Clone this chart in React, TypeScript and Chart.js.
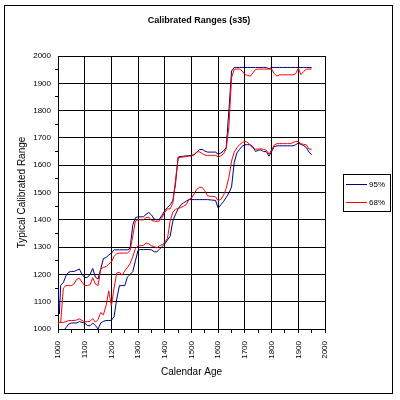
import React, { useEffect, useRef } from "react";
import { Chart, registerables } from "chart.js";

Chart.register(...registerables);

const FONT = "'Liberation Sans', Arial, sans-serif";

// Calendar ages (years) at which the calibrated ranges are sampled
const calendarAges = [
  1000, 1005, 1010, 1020, 1030, 1040, 1050, 1060, 1070, 1080,
  1090, 1100, 1110, 1120, 1130, 1140, 1150, 1160, 1170, 1180,
  1190, 1200, 1210, 1220, 1230, 1240, 1250, 1260, 1270, 1280,
  1290, 1300, 1310, 1320, 1330, 1340, 1350, 1360, 1370, 1380,
  1390, 1400, 1410, 1420, 1430, 1440, 1450, 1460, 1470, 1480,
  1490, 1500, 1510, 1520, 1530, 1540, 1550, 1560, 1570, 1580,
  1590, 1600, 1610, 1620, 1630, 1640, 1650, 1660, 1670, 1680,
  1690, 1700, 1710, 1720, 1730, 1740, 1750, 1760, 1770, 1780,
  1790, 1800, 1810, 1820, 1830, 1840, 1850, 1860, 1870, 1880,
  1890, 1900, 1910, 1920, 1930, 1940, 1950,
];

// 95% range, upper and lower bounds
const upper95 = [
  1150, 1055, 1160, 1170, 1195, 1208, 1211, 1211, 1215, 1220,
  1200, 1189, 1189, 1200, 1222, 1190, 1183, 1220, 1258, 1262,
  1271, 1278, 1290, 1290, 1290, 1290, 1290, 1290, 1295, 1380,
  1408, 1411, 1411, 1411, 1420, 1427, 1418, 1403, 1400, 1402,
  1418, 1433, 1445, 1455, 1470, 1530, 1630, 1632, 1633, 1634,
  1635, 1636, 1638, 1648, 1657, 1658, 1652, 1648, 1648, 1648,
  1648, 1640, 1645, 1652, 1665, 1800, 1945, 1958, 1958, 1958,
  1958, 1958, 1958, 1958, 1958, 1958, 1958, 1958, 1958, 1958,
  1953, 1958, 1958, 1958, 1958, 1958, 1958, 1958, 1958, 1958,
  1958, 1958, 1958, 1958, 1958, 1958, 1958,
];
const lower95 = [
  985, 985, 988, 993, 1005, 1018, 1022, 1022, 1022, 1027,
  1024, 1022, 1013, 1012, 1022, 1013, 1000, 1022, 1028, 1031,
  1031, 1032, 1045, 1110, 1159, 1159, 1159, 1190, 1200, 1210,
  1250, 1289, 1291, 1291, 1291, 1291, 1290, 1283, 1283, 1292,
  1302, 1312, 1326, 1340, 1395, 1420, 1440, 1455, 1462, 1468,
  1474, 1474, 1474, 1474, 1474, 1474, 1474, 1474, 1473, 1472,
  1471, 1443, 1455, 1467, 1482, 1498, 1520, 1610, 1645, 1658,
  1670, 1675, 1675, 1675, 1668, 1650, 1655, 1656, 1650, 1650,
  1633, 1650, 1668, 1671, 1671, 1671, 1671, 1671, 1671, 1671,
  1675, 1681, 1676, 1672, 1665, 1648, 1638,
];

// 68% range, upper and lower bounds
const upper68 = [
  1024, 1024, 1024, 1150, 1159, 1159, 1159, 1165, 1182, 1186,
  1172, 1159, 1159, 1162, 1188, 1165, 1159, 1220, 1226, 1228,
  1238, 1245, 1266, 1276, 1278, 1278, 1278, 1278, 1288, 1340,
  1396, 1400, 1400, 1400, 1408, 1410, 1398, 1395, 1394, 1396,
  1410, 1428, 1440, 1440, 1460, 1545, 1627, 1629, 1630, 1632,
  1633, 1634, 1639, 1649, 1649, 1643, 1637, 1636, 1636, 1636,
  1636, 1630, 1634, 1642, 1660, 1740, 1920, 1952, 1952, 1952,
  1945, 1932, 1929, 1926, 1938, 1951, 1952, 1952, 1952, 1952,
  1952, 1952, 1935, 1926, 1931, 1931, 1931, 1931, 1931, 1931,
  1935, 1955, 1932, 1943, 1952, 1952, 1952,
];
const lower68 = [
  1020, 1024, 1024, 1024, 1027, 1031, 1031, 1031, 1033, 1037,
  1031, 1027, 1027, 1028, 1038, 1025, 1035, 1060, 1052, 1085,
  1140, 1085, 1150, 1205, 1208, 1197, 1213, 1225, 1240, 1265,
  1295, 1305, 1305, 1306, 1315, 1312, 1305, 1302, 1297, 1305,
  1309, 1318, 1332, 1395, 1428, 1439, 1441, 1445, 1450, 1455,
  1474, 1480, 1495, 1512, 1519, 1519, 1506, 1488, 1486, 1486,
  1484, 1470, 1475, 1490, 1515, 1555, 1615, 1648, 1664, 1675,
  1683, 1687, 1684, 1673, 1662, 1659, 1659, 1660, 1658, 1655,
  1641, 1656, 1674, 1679, 1679, 1679, 1679, 1679, 1679, 1683,
  1687, 1687, 1679, 1676, 1675, 1659, 1659,
];

const seriesNames = ["95%", "68%"];
const seriesColors = ["#000080", "#FF0000"];
const chartTitle = "Calibrated Ranges (s35)";
const xAxisTitle = "Calendar Age";
const yAxisTitle = "Typical Calibrated Range";

const toPoints = (values: number[]) =>
  calendarAges.map((age, i) => ({ x: age, y: values[i] }));

const isMajor = (v: number) => Math.round(v) % 100 === 0;

// Paints the white page, outer frame, titles and the boxed legend
const framePlugin = {
  id: "frame",
  beforeDraw(chart: any) {
    const { ctx, width, height } = chart;
    ctx.save();
    ctx.fillStyle = "#ffffff";
    ctx.fillRect(0, 0, width, height);
    ctx.strokeStyle = "#000000";
    ctx.lineWidth = 1;
    ctx.strokeRect(4.5, 5.5, 388, 388);
    ctx.restore();
  },
  afterDraw(chart: any) {
    const { ctx, chartArea } = chart;
    ctx.save();
    ctx.fillStyle = "#000000";
    ctx.textAlign = "center";
    ctx.textBaseline = "middle";
    ctx.font = `bold 9px ${FONT}`;
    ctx.fillText(chartTitle, 199, 21);

    ctx.font = `10px ${FONT}`;
    ctx.fillText(xAxisTitle, (chartArea.left + chartArea.right) / 2, 372);

    ctx.save();
    ctx.translate(22, (chartArea.top + chartArea.bottom) / 2);
    ctx.rotate(-Math.PI / 2);
    ctx.fillText(yAxisTitle, 0, 0);
    ctx.restore();

    // legend
    ctx.strokeStyle = "#000000";
    ctx.lineWidth = 1;
    ctx.strokeRect(343.5, 174.5, 47, 37);
    ctx.font = `8px ${FONT}`;
    ctx.textAlign = "left";
    seriesNames.forEach((name, i) => {
      const y = 184.5 + i * 18;
      ctx.strokeStyle = seriesColors[i];
      ctx.beginPath();
      ctx.moveTo(346, y);
      ctx.lineTo(367, y);
      ctx.stroke();
      ctx.fillStyle = "#000000";
      ctx.fillText(name, 369, y);
    });
    ctx.restore();
  },
};

export default function App() {
  const canvasRef = useRef<HTMLCanvasElement | null>(null);

  useEffect(() => {
    const canvas = canvasRef.current;
    if (!canvas) return;

    const lineDataset = (label: string, values: number[], color: string, order: number) => ({
      label,
      data: toPoints(values),
      borderColor: color,
      backgroundColor: color,
      borderWidth: 1,
      pointRadius: 0,
      tension: 0,
      fill: false,
      order,
    });

    const chart = new Chart(canvas, {
      type: "line",
      data: {
        datasets: [
          lineDataset(seriesNames[1], upper68, seriesColors[1], 1),
          lineDataset(seriesNames[1], lower68, seriesColors[1], 1),
          lineDataset(seriesNames[0], upper95, seriesColors[0], 2),
          lineDataset(seriesNames[0], lower95, seriesColors[0], 2),
        ],
      },
      options: {
        responsive: false,
        animation: false,
        devicePixelRatio: 1,
        layout: { padding: { left: 0, top: 56, right: 75, bottom: 0 } },
        plugins: {
          legend: { display: false },
          title: { display: false },
          tooltip: { enabled: false },
        },
        scales: {
          x: {
            type: "linear",
            min: 1000,
            max: 2000,
            afterFit: (scale: any) => {
              scale.height = 71;
            },
            ticks: {
              stepSize: 50,
              autoSkip: false,
              minRotation: 90,
              maxRotation: 90,
              padding: 8,
              color: "#000000",
              font: { family: FONT, size: 8 },
              callback: (v: any) => (isMajor(Number(v)) ? String(v) : ""),
            },
            grid: {
              color: (c: any) => (c.tick && isMajor(c.tick.value) ? "#000000" : "rgba(0,0,0,0)"),
              tickColor: "#000000",
              tickLength: 4,
              lineWidth: 1,
            },
            border: { display: true, color: "#000000", width: 1 },
          },
          y: {
            type: "linear",
            min: 1000,
            max: 2000,
            afterFit: (scale: any) => {
              scale.width = 58;
            },
            ticks: {
              stepSize: 50,
              autoSkip: false,
              padding: 4,
              color: "#000000",
              font: { family: FONT, size: 8 },
              callback: (v: any) => (isMajor(Number(v)) ? String(v) : ""),
            },
            grid: {
              color: (c: any) => (c.tick && isMajor(c.tick.value) ? "#000000" : "rgba(0,0,0,0)"),
              tickColor: (c: any) => (c.tick && isMajor(c.tick.value) ? "rgba(0,0,0,0)" : "#000000"),
              tickLength: 3,
              lineWidth: 1,
            },
            border: { display: true, color: "#000000", width: 1 },
          },
        },
      },
      plugins: [framePlugin],
    } as any);

    return () => chart.destroy();
  }, []);

  return (
    <div style={{ position: "fixed", left: 0, top: 0, width: 400, height: 400, background: "#fff" }}>
      <canvas ref={canvasRef} width={400} height={400} style={{ display: "block" }} />
    </div>
  );
}
